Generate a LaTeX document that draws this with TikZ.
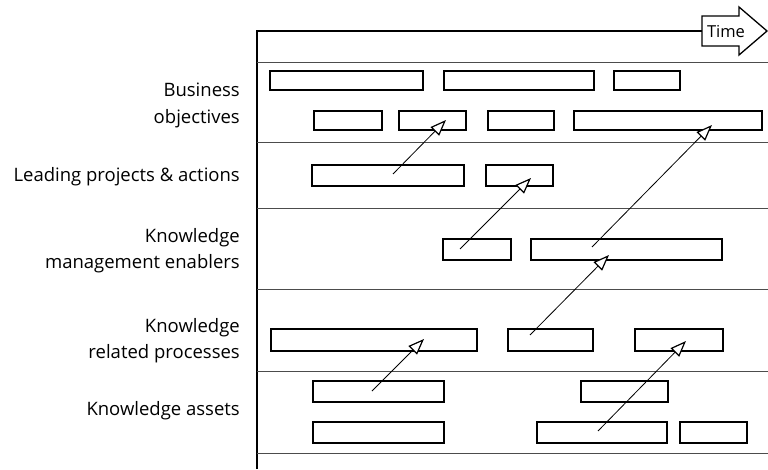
\documentclass[tikz,border=0pt]{standalone}
\usepackage{fontspec}
\setmainfont{Open Sans}
\usetikzlibrary{arrows.meta}
\newcommand\bx[5]{\node[bar, anchor=north west, minimum width={(#4)-(#2)}, minimum height={(#5)-(#3)}] (#1) at (#2,#3) {};}
\begin{document}
\begin{tikzpicture}[x=1pt,y=-1pt,
 bar/.style={draw, line width=1.5pt, inner sep=0pt, outer sep=0pt},
 sep/.style={line width=0.7pt, black!70},
 lab/.style={anchor=base east, font=\fontsize{18.5}{22}\selectfont, inner sep=0pt},
 link/.style={line width=0.8pt, -{Triangle[fill=white, length=16pt, width=12pt, line width=1.2pt]}}
]
\useasboundingbox (0,0) rectangle (768,469);
% frame
\coordinate (ftl) at (257,31);
\coordinate (fbl) at (257,469);
\coordinate (tl) at (702,31);
\draw[line width=1.3pt] (fbl) -- (ftl) -- (tl);
% time arrow
\draw[line width=1.3pt, fill=white] (702,16) -- (739,16) -- (739,7) -- (767,31) -- (739,55) -- (739,46) -- (702,46) -- cycle;
\node[font=\fontsize{16.5}{18}\selectfont, inner sep=0pt, anchor=base] (time) at (726,37) {Time};
% separators
\foreach \y/\n in {62/s1,142/s2,208/s3,289/s4,371/s5,453/s6}{
  \coordinate (\n l) at (257,\y);
  \coordinate (\n r) at (768,\y);
  \draw[sep] (\n l) -- (\n r);
}
% labels
\node[lab] (lbo1) at (240,96) {Business};
\node[lab] (lbo2) at (240,123) {objectives};
\node[lab] (llp) at (240,181) {Leading projects \& actions};
\node[lab] (lkm1) at (240,242) {Knowledge};
\node[lab] (lkm2) at (240,268) {management enablers};
\node[lab] (lkp1) at (240,332) {Knowledge};
\node[lab] (lkp2) at (240,358) {related processes};
\node[lab] (lka) at (240,415) {Knowledge assets};
% row 1
\bx{a1}{270}{71}{423}{90}
\bx{a2}{444}{71}{594}{90}
\bx{a3}{614}{71}{680}{90}
\bx{b1}{314}{111}{382}{130}
\bx{b2}{399}{111}{466}{130}
\bx{b3}{488}{111}{554}{130}
\bx{b4}{574}{111}{762}{130}
% row 2
\bx{c1}{312}{165}{464}{186}
\bx{c2}{486}{165}{553}{186}
% row 3
\bx{d1}{443}{239}{511}{260}
\bx{d2}{531}{239}{722}{260}
% row 4
\bx{e1}{271}{329}{477}{351}
\bx{e2}{508}{329}{593}{351}
\bx{e3}{635}{329}{723}{351}
% row 5
\bx{f1}{313}{381}{444}{402}
\bx{f2}{581}{381}{668}{402}
\bx{g1}{313}{422}{444}{443}
\bx{g2}{537}{422}{667}{443}
\bx{g3}{680}{422}{747}{443}
% arrows
\coordinate (p1) at (393,174); \coordinate (q1) at (446,120);
\coordinate (p2) at (592,247); \coordinate (q2) at (712,125);
\coordinate (p3) at (460,249); \coordinate (q3) at (531,178);
\coordinate (p4) at (530,335); \coordinate (q4) at (609,255);
\coordinate (p5) at (372,391); \coordinate (q5) at (424,339);
\coordinate (p6) at (598,431); \coordinate (q6) at (686,341);
\foreach \i in {1,...,6}{\draw[link] (p\i) -- (q\i);}
\end{tikzpicture}
\end{document}
